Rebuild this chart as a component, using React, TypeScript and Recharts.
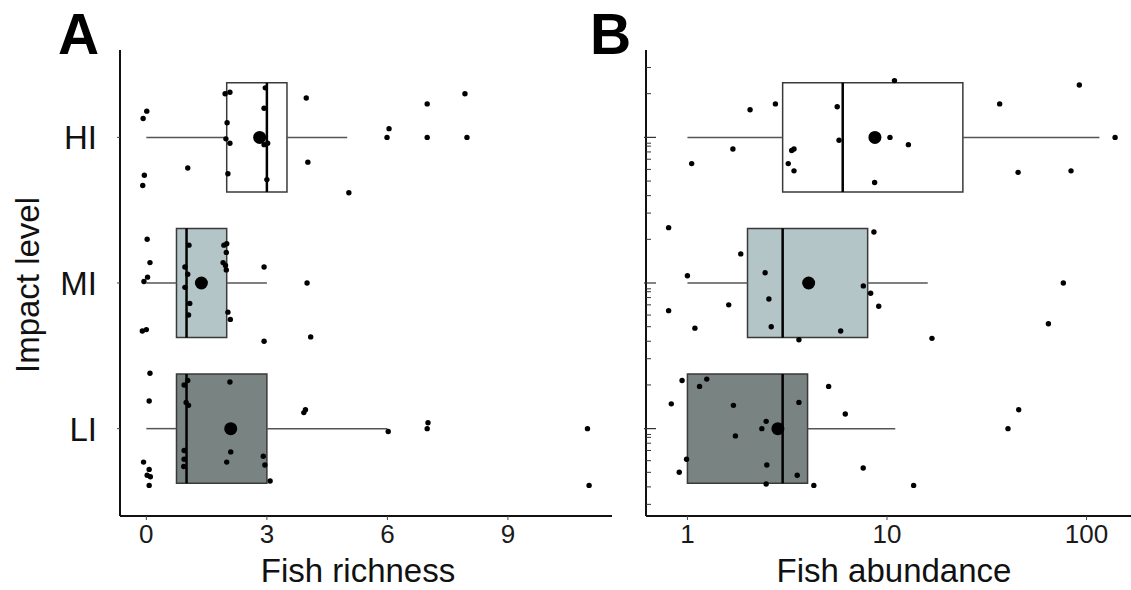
import React from 'react'
import { ScatterChart, Scatter, XAxis, YAxis, ReferenceArea, ReferenceLine } from 'recharts'

// y positions: LI = 1, MI = 2, HI = 3
const LEVELS = ['LI', 'MI', 'HI']

// ── Fish richness: [value, vertical jitter] ─────────────────────────────────
const richnessHI = [
  [0.01, 0.18], [-0.08, 0.13], [-0.05, -0.26], [-0.09, -0.33], [1.03, -0.21],
  [1.96, 0.3], [2.08, 0.31], [2.01, 0.1], [1.98, -0.01], [2.08, -0.04], [2.03, -0.25],
  [2.96, 0.34], [2.93, 0.2], [2.93, -0.05], [3.02, -0.04], [3.0, -0.29],
  [3.98, 0.27], [4.02, -0.17], [5.04, -0.38], [6.04, 0.06], [5.99, 0],
  [6.99, 0.23], [6.99, 0], [7.93, 0.3], [7.98, 0],
]
const richnessMI = [
  [0.02, 0.3], [0.09, 0.14], [0.03, 0.04], [-0.06, 0.01], [-0.1, -0.33], [0.0, -0.32],
  [1.06, 0.26], [0.96, 0.11], [1.03, 0.06], [0.96, -0.03], [1.08, -0.14], [1.05, -0.22],
  [1.93, 0.26], [2.0, 0.27], [1.99, 0.21], [1.91, 0.14], [1.97, 0.12], [1.99, 0.09],
  [2.03, -0.2], [2.09, -0.25], [2.93, 0.11], [2.93, -0.4], [4.0, 0], [4.09, -0.37],
]
const richnessLI = [
  [0.09, 0.38], [0.07, 0.19], [-0.07, -0.23], [0.07, -0.28], [0.02, -0.32], [0.1, -0.33],
  [0.07, -0.39], [1.03, 0.33], [0.94, 0.3], [0.99, 0.18], [1.05, 0.16], [0.94, -0.15],
  [0.94, -0.21], [0.93, -0.26], [2.08, 0.32], [2.1, -0.16], [2.0, -0.23], [2.91, -0.19],
  [2.95, -0.25], [3.08, -0.36], [3.92, 0.11], [3.96, 0.13], [6.02, -0.02], [7.01, 0.04],
  [6.99, 0], [10.98, 0], [11.02, -0.39],
]
const richnessBoxes = [
  { level: 'HI', lo: 0, q1: 2, med: 3, q3: 3.5, hi: 5, mean: 2.82 },
  { level: 'MI', lo: 0, q1: 0.75, med: 1, q3: 2, hi: 3, mean: 1.37 },
  { level: 'LI', lo: 0, q1: 0.75, med: 1, q3: 3, hi: 6, mean: 2.1 },
]
const richnessTicks = [0, 3, 6, 9]

// ── Fish abundance ───────────────────────────────────────────────────────────
const abundanceHI = [
  [10.9, 0.39], [2.06, 0.19], [2.76, 0.23], [5.63, 0.21], [36.7, 0.23], [92, 0.36],
  [139, 0], [10.35, 0], [12.8, -0.05], [5.75, -0.02], [1.69, -0.08], [1.05, -0.18],
  [3.33, -0.09], [3.42, -0.08], [3.2, -0.18], [3.42, -0.23], [8.67, -0.31],
  [45.4, -0.24], [83.6, -0.23],
]
const abundanceMI = [
  [0.805, 0.38], [8.6, 0.35], [1.85, 0.2], [1.0, 0.05], [2.45, 0.07], [0.805, -0.19],
  [1.61, -0.15], [2.56, -0.11], [1.09, -0.31], [2.63, -0.3], [3.62, -0.39], [5.86, -0.33],
  [7.61, -0.02], [8.28, -0.07], [9.09, -0.16], [16.8, -0.38], [76.5, 0], [64.4, -0.28],
]
const abundanceLI = [
  [0.94, 0.33], [1.15, 0.29], [1.25, 0.34], [0.83, 0.17], [1.7, 0.16], [3.62, 0.18],
  [5.1, 0.29], [6.18, 0.1], [2.48, 0.05], [2.36, 0], [1.74, -0.05], [0.99, -0.21],
  [0.91, -0.3], [2.5, -0.25], [3.55, -0.32], [2.48, -0.38], [4.3, -0.39], [7.6, -0.27],
  [13.6, -0.39], [40.4, 0], [45.7, 0.13],
]
const abundanceBoxes = [
  { level: 'HI', lo: 1, q1: 3, med: 6, q3: 24, hi: 116, mean: 8.7 },
  { level: 'MI', lo: 1, q1: 2, med: 3, q3: 8, hi: 16, mean: 4.05 },
  { level: 'LI', lo: 1, q1: 1, med: 3, q3: 4, hi: 11, mean: 2.84 },
]
const abundanceTicks = [1, 10, 100]
// panel B y axis carries log-style minor ticks between the levels
const abundanceYTicks = [
  3.48, 3.3, 3, 2.96, 2.94, 2.9, 2.85, 2.78, 2.7, 2.6,
  2.48, 2.3, 2, 1.96, 1.94, 1.9, 1.85, 1.78, 1.7, 1.6,
  1.48, 1.3, 1, 0.96, 0.94, 0.9, 0.85, 0.78, 0.7, 0.6, 0.48,
]

// ── helpers ──────────────────────────────────────────────────────────────────

const BOX_HALF = 0.375
const FONT = '"Liberation Sans", Arial, sans-serif'
const BOX_FILL: Record<string, string> = { HI: '#ffffff', MI: '#b3c5c7', LI: '#788382' }

const levelY = (level: string) => LEVELS.indexOf(level) + 1

function toPoints(level: string, rows: number[][]) {
  return rows.map(([x, j]) => ({ x, y: levelY(level) + j }))
}

const dot = (r: number) => (p: any) => <circle cx={p.cx} cy={p.cy} r={r} fill="#000" />

function LevelTick({ x, y, payload }: any) {
  return (
    <text x={x} y={y} dy={12} textAnchor="end" fontSize={33} fontFamily={FONT} fill="#111">
      {LEVELS[payload.value - 1]}
    </text>
  )
}

function MinorTick({ x, y, payload }: any) {
  const major = Number.isInteger(payload.value)
  return major
    ? <line x1={x - 2} x2={x + 10} y1={y} y2={y} stroke="#333" strokeWidth={1.2} />
    : <line x1={x} x2={x + 5} y1={y} y2={y} stroke="#333" strokeWidth={1} />
}

interface PanelProps {
  width: number
  yAxisWidth: number
  boxes: typeof richnessBoxes
  points: { x: number; y: number }[]
  scale: 'linear' | 'log'
  xDomain: [number, number]
  xTicks: number[]
  yTicks: number[]
  yTick: any
  yTickSize: number
  yTickMargin: number
}

function BoxPanel(p: PanelProps) {
  const means = p.boxes.map(b => ({ x: b.mean, y: levelY(b.level) }))
  return (
    <ScatterChart width={p.width} height={590} margin={{ top: 50, right: 0, bottom: 0, left: 0 }}>
      <XAxis
        type="number"
        dataKey="x"
        scale={p.scale}
        domain={p.xDomain}
        allowDataOverflow
        ticks={p.xTicks}
        interval={0}
        height={74}
        axisLine={{ stroke: '#111', strokeWidth: 2 }}
        tickLine={{ stroke: '#444' }}
        tickSize={4}
        tickMargin={5}
        tick={{ fontSize: 26, fill: '#1a1a1a', fontFamily: FONT }}
      />
      <YAxis
        type="number"
        dataKey="y"
        domain={[0.4, 3.6]}
        allowDataOverflow
        ticks={p.yTicks}
        interval={0}
        width={p.yAxisWidth}
        axisLine={{ stroke: '#111', strokeWidth: 2 }}
        tickLine={p.yTickSize > 0 ? { stroke: '#444' } : false}
        tickSize={p.yTickSize}
        tickMargin={p.yTickMargin}
        tick={p.yTick}
      />
      {p.boxes.map(b => {
        const c = levelY(b.level)
        return (
          <ReferenceArea
            key={'box' + b.level}
            x1={b.q1}
            x2={b.q3}
            y1={c - BOX_HALF}
            y2={c + BOX_HALF}
            fill={BOX_FILL[b.level]}
            fillOpacity={1}
            stroke="#3a3a3a"
            strokeWidth={1.5}
          />
        )
      })}
      {p.boxes.map(b => {
        const c = levelY(b.level)
        return [
          <ReferenceLine key={'wl' + b.level} segment={[{ x: b.lo, y: c }, { x: b.q1, y: c }]} stroke="#555" strokeWidth={1.5} />,
          <ReferenceLine key={'wr' + b.level} segment={[{ x: b.q3, y: c }, { x: b.hi, y: c }]} stroke="#555" strokeWidth={1.5} />,
          <ReferenceLine key={'md' + b.level} segment={[{ x: b.med, y: c - BOX_HALF }, { x: b.med, y: c + BOX_HALF }]} stroke="#000" strokeWidth={2.5} />,
        ]
      })}
      <Scatter data={p.points} shape={dot(2.7)} isAnimationActive={false} />
      <Scatter data={means} shape={dot(6.5)} isAnimationActive={false} />
    </ScatterChart>
  )
}

export default function App() {
  const richnessPoints = [
    ...toPoints('HI', richnessHI),
    ...toPoints('MI', richnessMI),
    ...toPoints('LI', richnessLI),
  ]
  const abundancePoints = [
    ...toPoints('HI', abundanceHI),
    ...toPoints('MI', abundanceMI),
    ...toPoints('LI', abundanceLI),
  ]

  return (
    <div style={{ position: 'fixed', left: 0, top: 0, width: 1131, height: 590, background: '#fff', fontFamily: FONT }}>
      <div style={{ position: 'absolute', left: 0, top: 0 }}>
        <BoxPanel
          width={612}
          yAxisWidth={120}
          boxes={richnessBoxes}
          points={richnessPoints}
          scale="linear"
          xDomain={[-0.656, 11.59]}
          xTicks={richnessTicks}
          yTicks={[1, 2, 3]}
          yTick={<LevelTick />}
          yTickSize={3}
          yTickMargin={20}
        />
      </div>
      <div style={{ position: 'absolute', left: 560, top: 0 }}>
        <BoxPanel
          width={571}
          yAxisWidth={86}
          boxes={abundanceBoxes}
          points={abundancePoints}
          scale="log"
          xDomain={[0.62, 167]}
          xTicks={abundanceTicks}
          yTicks={abundanceYTicks}
          yTick={<MinorTick />}
          yTickSize={0}
          yTickMargin={0}
        />
      </div>
      <svg width={1131} height={590} style={{ position: 'absolute', left: 0, top: 0, pointerEvents: 'none' }}>
        <g fontFamily={FONT} fill="#000">
          <text x={58} y={54} fontSize={57} fontWeight={700}>A</text>
          <text x={590} y={54} fontSize={57} fontWeight={700}>B</text>
          <text x={39} y={285} fontSize={33} textAnchor="middle" transform="rotate(-90 39 285)" fill="#111">Impact level</text>
          <text x={358} y={582} fontSize={33} textAnchor="middle" fill="#111">Fish richness</text>
          <text x={894} y={582} fontSize={33} textAnchor="middle" fill="#111">Fish abundance</text>
        </g>
      </svg>
    </div>
  )
}
